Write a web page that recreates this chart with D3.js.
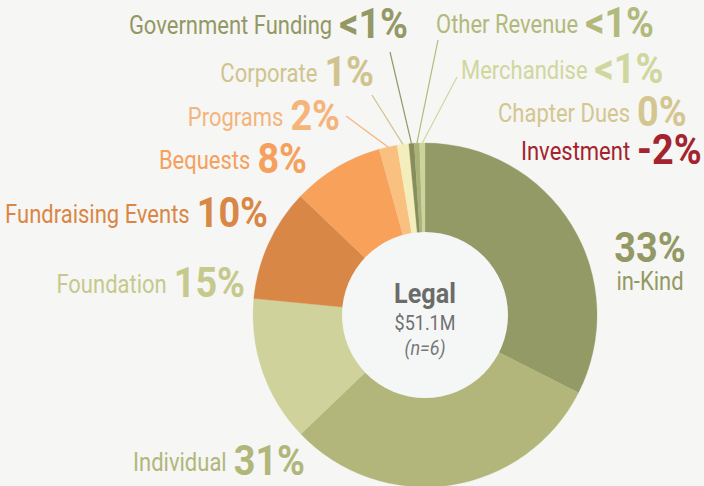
<!DOCTYPE html>
<html>
<head>
<meta charset="utf-8">
<script src="https://cdn.jsdelivr.net/npm/d3@7/dist/d3.min.js"></script>
<style>
  html, body { margin: 0; padding: 0; background: #f6f6f4; }
  svg { display: block; font-family: Roboto, "Liberation Sans", sans-serif; }
</style>
</head>
<body>
<div id="chart"></div>
<script>
// revenue sources, clockwise from 12 o'clock
var categories = ['in-Kind', 'Individual', 'Foundation', 'Fundraising Events', 'Bequests',
  'Programs', 'Corporate', 'Government Funding', 'Other Revenue', 'Merchandise',
  'Chapter Dues', 'Investment'];
var shares = [32.5, 30.4, 13.7, 10.6, 8.6, 1.7, 1.1, 0.5, 0.5, 0.5, 0, -2];
var shareLabels = ['33%', '31%', '15%', '10%', '8%', '2%', '1%', '<1%', '<1%', '<1%', '0%', '-2%'];

var centerTitle = 'Legal';
var centerTotal = '$51.1M';
var centerCount = '(n=6)';

// palette
var sliceColors = ['#949a66', '#b2b67b', '#cfd39b', '#d98747', '#f7a15b',
  '#f9c07f', '#f3eebb', '#878d5b', '#abb277', '#cdd49b', '#d1c48f', '#a3232e'];
var textColors = ['#939865', '#b1b67b', '#c6c98d', '#d98747', '#f5a05c',
  '#f5b47b', '#cfc48d', '#939865', '#b3b97c', '#d0d79e', '#d3c690', '#a3232e'];

var W = 704, H = 486;
var cx = 425, cy = 315, outerR = 172, innerR = 83;
var nameSx = 0.88, pctSx = 0.9; // horizontal squeeze to mimic the condensed face
var nameSize = 25, pctSize = 42, gap = 7;

// label placement: anchor, x, baseline of the percent, leader line start (or null)
var labelLayout = {
  'in-Kind': { special: true, x: 650, y: 262 },
  'Individual': { anchor: 'end', x: 305, y: 475 },
  'Foundation': { anchor: 'end', x: 245, y: 297 },
  'Fundraising Events': { anchor: 'end', x: 268, y: 227 },
  'Bequests': { anchor: 'end', x: 307, y: 173 },
  'Programs': { anchor: 'end', x: 340, y: 130, lead: [346, 116] },
  'Corporate': { anchor: 'end', x: 374, y: 86, lead: [372, 95] },
  'Government Funding': { anchor: 'end', x: 408, y: 38, lead: [390, 52] },
  'Other Revenue': { anchor: 'start', x: 436, y: 37, lead: [438, 40] },
  'Merchandise': { anchor: 'start', x: 461, y: 83, lead: [457, 77] },
  'Chapter Dues': { anchor: 'start', x: 498, y: 126 },
  'Investment': { anchor: 'start', x: 521, y: 164 }
};

var rows = categories.map(function(c, i) {
  return { name: c, value: shares[i], label: shareLabels[i], i: i };
});

var svg = d3.select('#chart').append('svg')
  .attr('width', W)
  .attr('height', H);

svg.append('rect')
  .attr('width', W)
  .attr('height', H)
  .style('fill', '#f6f6f4');

var color = d3.scaleOrdinal().domain(categories).range(sliceColors);
var tcolor = d3.scaleOrdinal().domain(categories).range(textColors);

var pie = d3.pie()
  .sort(null)
  .value(function(d) { return Math.max(0, d.value); });

var arc = d3.arc().innerRadius(0).outerRadius(outerR);

var g = svg.append('g').attr('transform', 'translate(' + cx + ',' + cy + ')');

var arcs = pie(rows);

g.selectAll('path.slice')
  .data(arcs.filter(function(a) { return a.endAngle > a.startAngle; }))
  .enter().append('path')
  .attr('class', 'slice')
  .attr('d', arc)
  .style('fill', function(a) { return color(a.data.name); })
  .style('stroke', function(a) { return color(a.data.name); })
  .style('stroke-width', 0.3);

// leader lines from the label to the rim of the slice
arcs.forEach(function(a) {
  var lay = labelLayout[a.data.name];
  if (!lay || !lay.lead) { return; }
  var mid = (a.startAngle + a.endAngle) / 2;
  svg.append('line')
    .attr('x1', lay.lead[0])
    .attr('y1', lay.lead[1])
    .attr('x2', cx + Math.sin(mid) * outerR)
    .attr('y2', cy - Math.cos(mid) * outerR)
    .style('stroke', tcolor(a.data.name))
    .style('stroke-width', 1.2);
});

// center hole
g.append('circle')
  .attr('r', innerR)
  .style('fill', '#f5f7f7');

function squeezed(x, y, s) {
  return 'translate(' + x + ',' + y + ') scale(' + s + ',1)';
}

g.append('text')
  .attr('transform', squeezed(0, -12, 0.9))
  .attr('text-anchor', 'middle')
  .style('font-size', '28px')
  .style('font-weight', 700)
  .style('fill', '#6b6b69')
  .text(centerTitle);

g.append('text')
  .attr('transform', squeezed(0, 15, 0.9))
  .attr('text-anchor', 'middle')
  .style('font-size', '20px')
  .style('fill', '#6f6f6f')
  .text(centerTotal);

g.append('text')
  .attr('transform', squeezed(0, 40, 0.9))
  .attr('text-anchor', 'middle')
  .style('font-size', '20px')
  .style('font-style', 'italic')
  .style('fill', '#777777')
  .text(centerCount);

function addText(x, y, s, anchor, size, bold, col, str) {
  return svg.append('text')
    .attr('transform', squeezed(x, y, s))
    .attr('text-anchor', anchor)
    .style('font-size', size + 'px')
    .style('font-weight', bold ? 700 : 400)
    .style('fill', col)
    .text(str);
}

// outside labels
rows.forEach(function(d) {
  var lay = labelLayout[d.name];
  var col = tcolor(d.name);

  if (lay.special) {
    addText(lay.x, lay.y, pctSx, 'middle', pctSize, true, col, d.label);
    addText(lay.x, lay.y + 28, nameSx, 'middle', nameSize, false, col, d.name);
    return;
  }

  if (lay.anchor === 'end') {
    var p = addText(lay.x, lay.y, pctSx, 'end', pctSize, true, col, d.label);
    var pw = p.node().getComputedTextLength() * pctSx;
    addText(lay.x - pw - gap, lay.y - 4, nameSx, 'end', nameSize, false, col, d.name);
  } else {
    var n = addText(lay.x, lay.y - 4, nameSx, 'start', nameSize, false, col, d.name);
    var nw = n.node().getComputedTextLength() * nameSx;
    addText(lay.x + nw + gap, lay.y, pctSx, 'start', pctSize, true, col, d.label);
  }
});
</script>
</body>
</html>
